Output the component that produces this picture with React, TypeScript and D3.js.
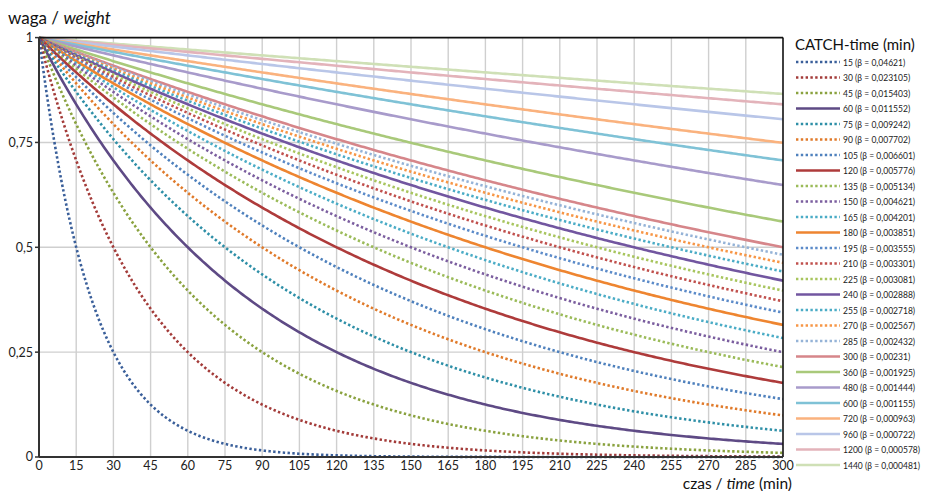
import React from "react";
import * as d3 from "d3";

const catchTimes = [15, 30, 45, 60, 75, 90, 105, 120, 135, 150, 165, 180, 195, 210, 225, 240, 255, 270, 285, 300, 360, 480, 600, 720, 960, 1200, 1440];
const betaLabels = ["0,04621", "0,023105", "0,015403", "0,011552", "0,009242", "0,007702", "0,006601", "0,005776", "0,005134", "0,004621", "0,004201", "0,003851", "0,003555", "0,003301", "0,003081", "0,002888", "0,002718", "0,002567", "0,002432", "0,00231", "0,001925", "0,001444", "0,001155", "0,000963", "0,000722", "0,000578", "0,000481"];
const betas = [0.04621, 0.023105, 0.015403, 0.011552, 0.009242, 0.007702, 0.006601, 0.005776, 0.005134, 0.004621, 0.004201, 0.003851, 0.003555, 0.003301, 0.003081, 0.002888, 0.002718, 0.002567, 0.002432, 0.00231, 0.001925, 0.001444, 0.001155, 0.000963, 0.000722, 0.000578, 0.000481];
const xTicks = [0, 15, 30, 45, 60, 75, 90, 105, 120, 135, 150, 165, 180, 195, 210, 225, 240, 255, 270, 285, 300];
const yTicks = [0, 0.25, 0.5, 0.75, 1];
const yTickLabels = ["0", "0,25", "0,5", "0,75", "1"];

const colors = ["#3A5F9A", "#A33B39", "#8AA23F", "#5E4A85", "#2E8FA7", "#E07A2A", "#4F81BD", "#AE3B3B", "#9BBB59", "#7B5E9F", "#4BACC6", "#EE8530", "#5C8BC9", "#C0504D", "#A8C55E", "#7256A0", "#4BACC6", "#F79646", "#95B3D7", "#D6868A", "#A9C97A", "#A89BCB", "#7FC2D6", "#FAB27E", "#B9C6E8", "#E3B3BA", "#CFE0B6"];
const solid = [false, false, false, true, false, false, false, true, false, false, false, true, false, false, false, true, false, false, false, true, true, true, true, true, true, true, true];

const W = 928, H = 491;
const L = 39, R = 783, T = 37.6, B = 457;
const FONT = "Lato, 'Open Sans', sans-serif";

export default function App() {
  const x = d3.scaleLinear().domain([0, 300]).range([L, R]);
  const y = d3.scaleLinear().domain([0, 1]).range([B, T]);
  const ts = d3.range(0, 300.5, 1);

  // draw in reverse order so the first series stays on top
  const order = catchTimes.map((_, i) => i).reverse();

  const legY0 = 62, legDy = 15.5;

  return (
    <svg width={W} height={H} style={{ position: "absolute", left: 0, top: 0, background: "#fff" }} fontFamily={FONT}>
      <rect x={0} y={0} width={W} height={H} fill="#fff" />
      {/* gridlines */}
      {xTicks.slice(1, -1).map((t) => (
        <line key={"gx" + t} x1={x(t)} x2={x(t)} y1={T} y2={B} stroke="#CFCFCF" strokeWidth={1.4} />
      ))}
      {yTicks.slice(1, -1).map((v) => (
        <line key={"gy" + v} x1={L} x2={R} y1={y(v)} y2={y(v)} stroke="#CFCFCF" strokeWidth={1.4} />
      ))}
      {/* curves */}
      <defs>
        <clipPath id="plotclip">
          <rect x={L} y={T - 2} width={R - L} height={B - T + 4} />
        </clipPath>
      </defs>
      <g clipPath="url(#plotclip)">
        {order.map((i) => {
          const b = betas[i];
          const d = d3.line<number>().x((t) => x(t)).y((t) => y(Math.exp(-b * t)))(ts) || "";
          return (
            <path
              key={"s" + i}
              d={d}
              fill="none"
              stroke={colors[i]}
              strokeWidth={2.6}
              strokeDasharray={solid[i] ? undefined : "2.4 2.4"}
            />
          );
        })}
      </g>
      {/* frame */}
      <line x1={L} x2={R} y1={T} y2={T} stroke="#111" strokeWidth={1.6} />
      <line x1={R} x2={R} y1={T} y2={B} stroke="#111" strokeWidth={1.6} />
      <line x1={L} x2={L} y1={T} y2={B} stroke="#333" strokeWidth={2} />
      <line x1={L} x2={R} y1={B} y2={B} stroke="#333" strokeWidth={2} />
      {/* y ticks */}
      {yTicks.map((v, i) => (
        <g key={"yt" + v}>
          <line x1={L - 4} x2={L} y1={y(v)} y2={y(v)} stroke="#333" strokeWidth={1.5} />
          <text x={L - 6} y={y(v)} dy="0.35em" textAnchor="end" fontSize={12.5} fill="#222">{yTickLabels[i]}</text>
        </g>
      ))}
      {/* x ticks */}
      {xTicks.map((t) => (
        <text key={"xt" + t} x={x(t)} y={470} textAnchor="middle" fontSize={12.5} fill="#222">{t}</text>
      ))}
      {/* titles */}
      <text x={8} y={24} fontSize={17} fill="#111">
        waga / <tspan fontStyle="italic">weight</tspan>
      </text>
      <text x={792} y={489} textAnchor="end" fontSize={15.5} fill="#111">
        czas / <tspan fontStyle="italic">time</tspan> (min)
      </text>
      {/* legend */}
      <text x={795} y={50} fontSize={15} fill="#111">CATCH-time (min)</text>
      {catchTimes.map((c, i) => {
        const yy = legY0 + i * legDy;
        return (
          <g key={"lg" + c}>
            <line x1={796} x2={840} y1={yy} y2={yy} stroke={colors[i]} strokeWidth={2.6}
              strokeDasharray={solid[i] ? undefined : "2.4 2.4"} />
            <text transform={`translate(843,${yy}) scale(0.82,1)`} dy="0.35em" fontSize={10.4} fill="#222">
              {c} (β = {betaLabels[i]})
            </text>
          </g>
        );
      })}
    </svg>
  );
}
